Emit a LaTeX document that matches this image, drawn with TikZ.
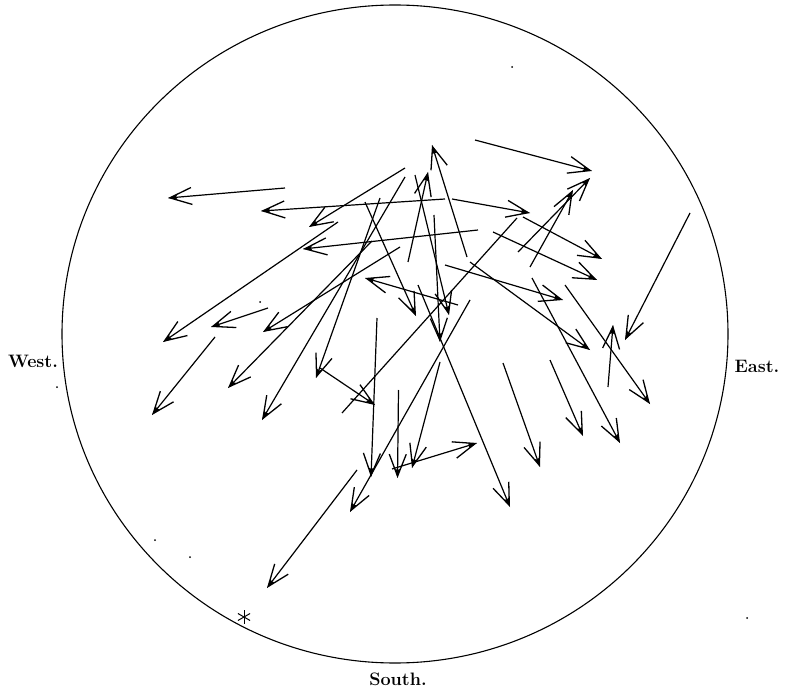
\documentclass[tikz,border=0pt]{standalone}
\usetikzlibrary{arrows.meta}
\begin{document}
\begin{tikzpicture}[x=1pt,y=-1pt,
  track/.style={line width=1.2pt, -{Straight Barb[length=22pt,width=17pt,line width=1.3pt,sep=-9pt]Stealth[length=9pt,width=4.5pt,inset=1pt]}},
  plainline/.style={line width=1.2pt},
  lbl/.style={font=\fontsize{18}{20}\selectfont\bfseries, inner sep=0pt}]
\useasboundingbox (0,0) rectangle (788,690);
\fill[white] (0,0) rectangle (788,690);
% sky circle
\draw[line width=1.1pt] (395,334) ellipse [x radius=333, y radius=329];
% meteor tracks: tail / head
\foreach \ax/\ay/\bx/\by in {
  285/188/168/198, 445/199/261/211, 452/199/530/213, 405/168/309/227,
  338/222/163/342, 478/230/303/249, 475/140/592/171, 467/257/432/145,
  408/262/428/172, 518/252/590/178, 530/267/573/190, 523/217/602/259,
  493/232/597/280, 445/265/563/300, 690/213/625/340, 532/278/620/443,
  470/262/590/350, 565/285/650/404, 608/387/613/325, 503/363/540/467,
  550/360/583/436, 268/308/211/327, 400/247/263/332, 372/241/228/388,
  215/337/152/415, 405/177/262/420, 377/318/371/477, 398.5/390/397.5/478,
  440/362/412/468, 470/300/350/512, 418/285/510/507, 392/469/477/443,
  357/470/267/588, 380/198/316/378, 320/368/375/405, 458/305/365/278,
  365/202/416/316, 415/175/449/315, 434/215/440/342}
  \draw[track] (\ax,\ay) -- (\bx,\by);
\draw[plainline] (517,218) -- (342,413);
% star
\foreach \a in {90,30,150,210,270,330}
  \draw[line width=1pt] (244,617) -- ++(\a:7);
% stray dots
\foreach \dx/\dy in {512/67, 747/618, 57/387, 260/302, 190/557, 155/540}
  \fill (\dx,\dy) circle (1);
% labels
\node[lbl] (west) at (33,361) {West.};
\node[lbl] (east) at (757,366) {East.};
\node[lbl] (south) at (398,679) {South.};
\end{tikzpicture}
\end{document}
